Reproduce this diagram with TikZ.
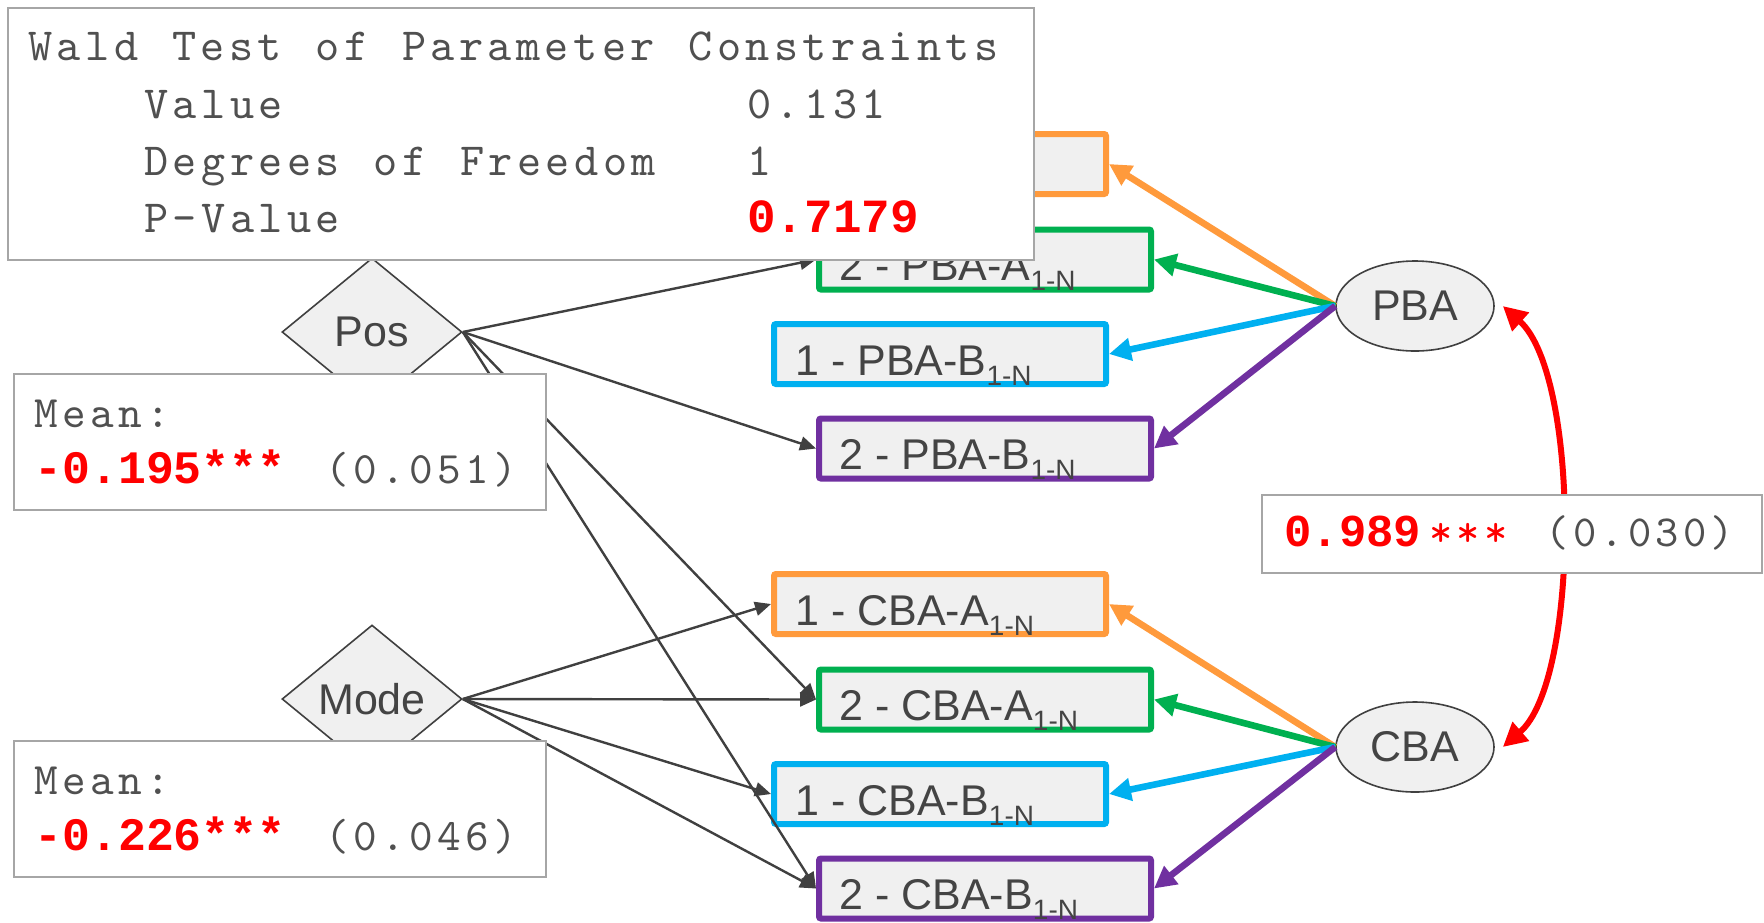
\documentclass[tikz,border=0pt]{standalone}
\usepackage{fontspec}
\setmainfont{Liberation Sans}
\newfontfamily\monofont{lmmono10-regular}[Extension=.otf, LetterSpace=9.6, WordSpace=1.183]
\newfontfamily\monobold{Liberation Mono Bold}
\usetikzlibrary{shapes.geometric,arrows.meta,calc}
\definecolor{cOrange}{HTML}{FF9A3C}
\definecolor{cGreen}{HTML}{00B050}
\definecolor{cBlue}{HTML}{00B0F0}
\definecolor{cPurple}{HTML}{7030A0}
\definecolor{cRed}{HTML}{FF0000}
\definecolor{boxfill}{HTML}{F0F0F0}
\definecolor{dgray}{HTML}{404040}
\definecolor{tgray}{HTML}{444444}
\definecolor{mgray}{HTML}{505050}
\definecolor{bgray}{HTML}{A6A6A6}
\newcommand\subN{\raisebox{-5pt}{\fontsize{14pt}{14pt}\selectfont 1-N}}
\begin{document}
\begin{tikzpicture}[x=0.5pt,y=-0.5pt,
  cbox/.style={draw, line width=3pt, fill=boxfill, minimum width=166pt, minimum height=30pt, inner sep=0pt, rounded corners=1pt},
  lbl/.style={anchor=base west, inner sep=0pt, text=tgray, font=\fontsize{21.5pt}{24pt}\selectfont},
  dia/.style={diamond, draw=dgray, line width=0.8pt, fill=boxfill, minimum width=90pt, minimum height=74pt, inner sep=0pt, text=tgray, font=\fontsize{21.5pt}{24pt}\selectfont},
  ell/.style={ellipse, draw=dgray, line width=0.8pt, fill=boxfill, minimum width=79pt, minimum height=45pt, inner sep=0pt, text=tgray, font=\fontsize{21.5pt}{24pt}\selectfont},
  garrow/.style={draw=dgray, line width=1.2pt, -{Triangle[length=8pt,width=7pt]}},
  carrow/.style={line width=3.3pt, -{Triangle[length=11pt,width=11pt]}},
  gbox/.style={draw=bgray, line width=1pt, fill=white, inner sep=0pt},
  wtxt/.style={anchor=base west, inner sep=0pt, text=mgray, font=\monofont\fontsize{23pt}{26pt}\selectfont},
  wbold/.style={anchor=base west, inner sep=0pt, text=cRed, font=\monobold\fontsize{23.8pt}{26pt}\selectfont},
  mtxt/.style={anchor=base west, inner sep=0pt, text=mgray, font=\monofont\fontsize{22.5pt}{26pt}\selectfont},
  mbold/.style={anchor=base west, inner sep=0pt, text=cRed, font=\monobold\fontsize{23.25pt}{26pt}\selectfont},
  ctxt/.style={anchor=base west, inner sep=0pt, text=mgray, font=\monofont\fontsize{22.2pt}{26pt}\selectfont},
  cbold/.style={anchor=base west, inner sep=0pt, text=cRed, font=\monobold\fontsize{22.8pt}{26pt}\selectfont}
]
\useasboundingbox (0,0) rectangle (1764,922);
\fill[white] (0,0) rectangle (1764,922);

% coloured boxes
\node[cbox, draw=cOrange] (b1pa) at (940,164) {};
\node[cbox, draw=cGreen]  (b2pa) at (985,259.5) {};
\node[cbox, draw=cBlue]   (b1pb) at (940,354) {};
\node[cbox, draw=cPurple] (b2pb) at (985,448.5) {};
\node[cbox, draw=cOrange] (b1ca) at (940,604) {};
\node[cbox, draw=cGreen]  (b2ca) at (985,699.5) {};
\node[cbox, draw=cBlue]   (b1cb) at (940,794) {};
\node[cbox, draw=cPurple] (b2cb) at (985,888.5) {};

\node[lbl] (l2pa) at ([xshift=11.5pt,yshift=-10.5pt]b2pa.west) {2 - PBA-A\subN};
\node[lbl] (l1pb) at ([xshift=12pt,yshift=-10.5pt]b1pb.west) {1 - PBA-B\subN};
\node[lbl] (l2pb) at ([xshift=11.5pt,yshift=-10.5pt]b2pb.west) {2 - PBA-B\subN};
\node[lbl] (l1ca) at ([xshift=12pt,yshift=-10.5pt]b1ca.west) {1 - CBA-A\subN};
\node[lbl] (l2ca) at ([xshift=11.5pt,yshift=-10.5pt]b2ca.west) {2 - CBA-A\subN};
\node[lbl] (l1cb) at ([xshift=12pt,yshift=-10.5pt]b1cb.west) {1 - CBA-B\subN};
\node[lbl] (l2cb) at ([xshift=11.5pt,yshift=-10.5pt]b2cb.west) {2 - CBA-B\subN};

% diamonds and ellipses
\node[dia] (pos) at (372,332) {Pos};
\node[dia] (mode) at (372,699) {Mode};
\node[ell] (pba) at (1415,306) {PBA};
\node[ell] (cba) at (1415,747) {CBA};

% gray arrows
\draw[garrow] (pos.east) -- (b2pa.west);
\draw[garrow] (pos.east) -- (b2pb.west);
\draw[garrow] (pos.east) -- (b2ca.west);
\draw[garrow] (pos.east) -- (b2cb.west);
\draw[garrow] (mode.east) -- (b1ca.west);
\draw[garrow] (mode.east) -- (b2ca.west);
\draw[garrow] (mode.east) -- (b1cb.west);
\draw[garrow] (mode.east) -- (b2cb.west);

% coloured arrows
\draw[carrow, cOrange] (pba.west) -- (b1pa.east);
\draw[carrow, cGreen]  (pba.west) -- (b2pa.east);
\draw[carrow, cBlue]   (pba.west) -- (b1pb.east);
\draw[carrow, cPurple] (pba.west) -- (b2pb.east);
\draw[carrow, cOrange] (cba.west) -- (b1ca.east);
\draw[carrow, cGreen]  (cba.west) -- (b2ca.east);
\draw[carrow, cBlue]   (cba.west) -- (b1cb.east);
\draw[carrow, cPurple] (cba.west) -- (b2cb.east);

% red covariance
\draw[cRed, line width=3pt, {Triangle[length=12pt,width=12pt]}-{Triangle[length=12pt,width=12pt]}]
  ([xshift=4pt]pba.east) .. controls (1580,375) and (1580,680) .. ([xshift=4pt]cba.east);

% Wald box
\node[gbox, minimum width=513pt, minimum height=126pt] (wald) at (521,134) {};
\node[wtxt] (w1) at (28,60) {Wald Test of Parameter Constraints};
\node[wtxt] (w2) at (144,118) {Value};
\node[wtxt] (w3) at (747,118) {0.131};
\node[wtxt] (w4) at (144,175) {Degrees of Freedom};
\node[wtxt] (w5) at (747,175) {1};
\node[wtxt] (w6) at (144,232) {P-Value};
\node[wbold] (w7) at (747,232) {0.7179};

% Mean boxes
\node[gbox, minimum width=266pt, minimum height=68pt] (mean1) at (280,442) {};
\node[mtxt] (m1) at (34,427) {Mean:};
\node[mbold] (m2) at (34,483) {-0.195***};
\node[mtxt] (m2b) at (325,483) {(0.051)};
\node[gbox, minimum width=266pt, minimum height=68pt] (mean2) at (280,809) {};
\node[mtxt] (m3) at (34,794) {Mean:};
\node[mbold] (m4) at (34,850) {-0.226***};
\node[mtxt] (m4b) at (325,850) {(0.046)};

% correlation box
\node[gbox, minimum width=250pt, minimum height=39pt] (corr) at (1512,534) {};
\node[cbold] (c1) at (1284,546) {0.989};
\node[ctxt, text=cRed] (c1b) at (1429,546) {***};
\node[ctxt] (c1c) at (1545,546) {(0.030)};
\end{tikzpicture}
\end{document}
